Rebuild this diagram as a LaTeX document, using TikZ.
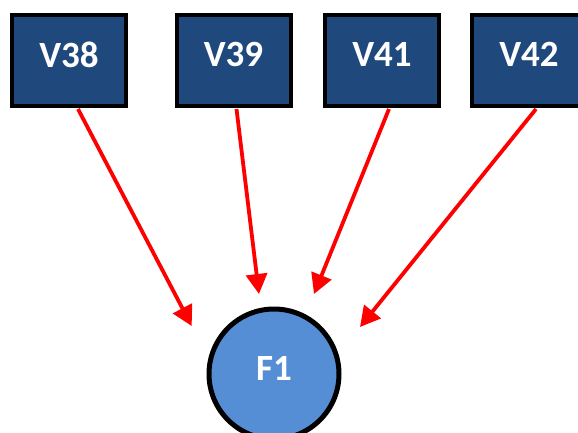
\documentclass[tikz,border=0pt]{standalone}
\usepackage{fontspec}
\setmainfont{Carlito}
\usetikzlibrary{arrows.meta}
\definecolor{boxblue}{HTML}{1F497D}
\definecolor{circblue}{HTML}{558ED5}
\begin{document}
\begin{tikzpicture}[x=1pt,y=-1pt,
  varbox/.style={draw=black, line width=4pt, fill=boxblue, text=white,
    minimum width=114pt, minimum height=91pt, inner sep=0pt, text depth=12pt,
    font=\fontsize{37}{37}\selectfont\bfseries},
  factor/.style={circle, draw=black, line width=5pt, fill=circblue, text=white,
    minimum size=130pt, inner sep=0pt, text depth=12pt,
    font=\fontsize{37}{37}\selectfont\bfseries},
  link/.style={draw=red, line width=3.8pt, -{Triangle[length=20pt,width=21pt]}}]
  \useasboundingbox (0,0) rectangle (578,432);
  % observed variables
  \node[varbox] (v38) at (69,60.5) {V38};
  \node[varbox] (v39) at (233.5,60.5) {V39};
  \node[varbox] (v41) at (382,60.5) {V41};
  \node[varbox] (v42) at (529,60.5) {V42};
  % latent factor
  \node[factor] (f1) at (274,374) {F1};
  % arrow tips stop short of the factor
  \coordinate (t38) at (191.7,326);
  \coordinate (t39) at (259,294);
  \coordinate (t41) at (314,294);
  \coordinate (t42) at (360,327);
  \draw[link] ([xshift=9pt,yshift=-1pt]v38.south) -- (t38);
  \draw[link] ([xshift=3pt,yshift=-1pt]v39.south) -- (t39);
  \draw[link] ([xshift=7pt,yshift=-1pt]v41.south) -- (t41);
  \draw[link] ([xshift=7pt,yshift=-1pt]v42.south) -- (t42);
\end{tikzpicture}
\end{document}
